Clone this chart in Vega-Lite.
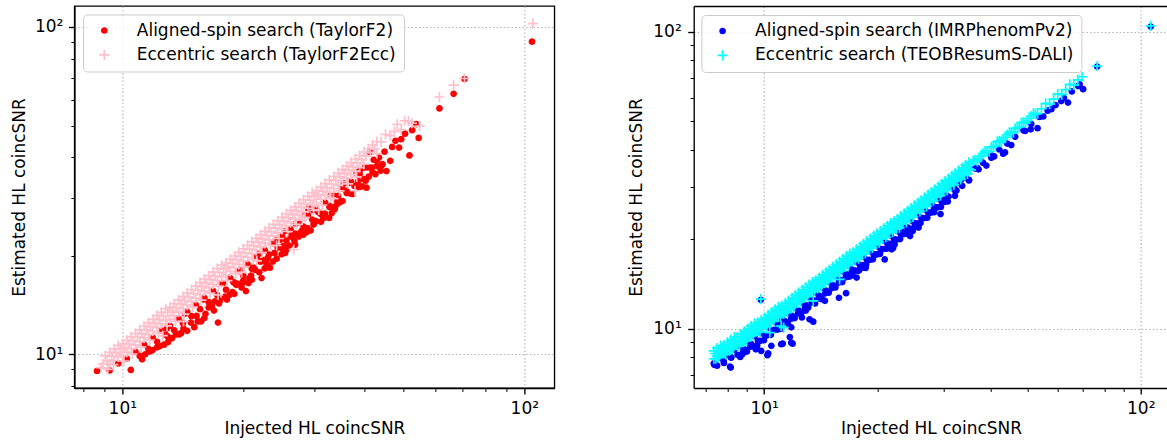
{
"$schema":"https://vega.github.io/schema/vega-lite/v6.json",
"background":"white",
"padding":{"left":9.4,"top":5,"right":0,"bottom":0},
"spacing":139.3,
"bounds":"flush",
"config":{
"font":"DejaVu Sans",
"view":{"stroke":"black","strokeWidth":1.36},
"axis":{"labelFont":"DejaVu Sans","labelFontSize":17,"labelColor":"black","titleFont":"DejaVu Sans","titleFontSize":17,"titleFontWeight":"normal","titleColor":"black","tickColor":"black","domainColor":"black","domainWidth":1.36,"gridColor":"#b0b0b0","gridDash":[1.4,2.3],"gridWidth":1.2,"labelOverlap":false,"labelFlush":false,"labelBound":false,"grid":true},
"legend":{"labelFont":"DejaVu Sans","labelFontSize":17,"labelColor":"black","labelLimit":500,"padding":7.5,"rowPadding":6.4,"symbolOffset":5.2,"labelOffset":24,"fillColor":"rgba(255,255,255,0.8)","strokeColor":"#cccccc","cornerRadius":4,"symbolStrokeWidth":1.7,"symbolOpacity":1,"symbolSize":104}
},
"datasets":{
"L":[
{"x":8.65,"y":8.9,"s":"A"},{"x":10.5,"y":8.96,"s":"A"},{"x":11.2,"y":9.65,"s":"A"},{"x":11.4,"y":10.0,"s":"A"},{"x":11.7,"y":10.2,"s":"A"},{"x":12.2,"y":10.5,"s":"A"},{"x":12.7,"y":10.7,"s":"A"},{"x":13.3,"y":11.2,"s":"A"},{"x":13.85,"y":11.5,"s":"A"},{"x":14.5,"y":11.8,"s":"A"},{"x":15.1,"y":12.1,"s":"A"},{"x":15.7,"y":12.6,"s":"A"},{"x":16.4,"y":13.9,"s":"A"},{"x":17.3,"y":12.5,"s":"A"},{"x":17.5,"y":14.6,"s":"A"},{"x":18.2,"y":14.7,"s":"A"},{"x":19.0,"y":15.3,"s":"A"},{"x":19.4,"y":16.4,"s":"A"},{"x":20.3,"y":15.6,"s":"A"},{"x":20.7,"y":17.1,"s":"A"},{"x":21.2,"y":18.4,"s":"A"},{"x":21.6,"y":19.7,"s":"A"},{"x":23.0,"y":19.7,"s":"A"},{"x":23.3,"y":18.4,"s":"A"},{"x":24.0,"y":22.2,"s":"A"},{"x":25.1,"y":21.4,"s":"A"},{"x":25.6,"y":20.9,"s":"A"},{"x":26.2,"y":23.0,"s":"A"},{"x":27.3,"y":23.3,"s":"A"},{"x":27.9,"y":23.8,"s":"A"},{"x":28.5,"y":26.8,"s":"A"},{"x":30.3,"y":25.5,"s":"A"},{"x":31.7,"y":26.1,"s":"A"},{"x":32.7,"y":26.1,"s":"A"},{"x":33.7,"y":27.7,"s":"A"},{"x":34.1,"y":28.7,"s":"A"},{"x":36.3,"y":31.2,"s":"A"},{"x":36.7,"y":33.4,"s":"A"},{"x":38.3,"y":35.5,"s":"A"},{"x":41.7,"y":37.2,"s":"A"},{"x":44.4,"y":38.1,"s":"A"},{"x":43.5,"y":39.9,"s":"A"},{"x":45.4,"y":36.3,"s":"A"},{"x":46.4,"y":39.0,"s":"A"},{"x":49.4,"y":45.4,"s":"A"},{"x":50.5,"y":47.2,"s":"A"},{"x":51.8,"y":40.5,"s":"A"},{"x":54.6,"y":45.8,"s":"A"},{"x":61.5,"y":56.4,"s":"A"},{"x":66.7,"y":62.5,"s":"A"},{"x":71.0,"y":69.4,"s":"A"},{"x":104.5,"y":90.2,"s":"A"},{"x":25.4,"y":23.8,"s":"A"},{"x":24.7,"y":22.4,"s":"A"},{"x":25.4,"y":20.9,"s":"A"},{"x":23.1,"y":18.6,"s":"A"},{"x":22.2,"y":17.1,"s":"A"},{"x":41.3,"y":41.5,"s":"A"},{"x":40.1,"y":37.2,"s":"A"},{"x":40.5,"y":32.3,"s":"A"},{"x":38.6,"y":33.8,"s":"A"},{"x":38.3,"y":35.9,"s":"A"},{"x":36.1,"y":31.6,"s":"A"},{"x":34.4,"y":30.5,"s":"A"},{"x":34.1,"y":29.4,"s":"A"},{"x":33.8,"y":28.0,"s":"A"},{"x":31.6,"y":26.1,"s":"A"},{"x":31.0,"y":27.1,"s":"A"},{"x":29.0,"y":27.9,"s":"A"},
{"x":9.30,"y":8.93,"s":"A"},{"x":9.77,"y":9.38,"s":"A"},{"x":10.26,"y":9.70,"s":"A"},{"x":10.78,"y":10.19,"s":"A"},{"x":11.33,"y":10.71,"s":"A"},{"x":11.90,"y":11.25,"s":"A"},{"x":12.50,"y":11.81,"s":"A"},{"x":13.14,"y":12.22,"s":"A"},{"x":13.80,"y":12.83,"s":"A"},{"x":14.50,"y":13.49,"s":"A"},{"x":15.23,"y":14.16,"s":"A"},{"x":16.00,"y":14.88,"s":"A"},{"x":16.81,"y":15.63,"s":"A"},{"x":17.66,"y":16.42,"s":"A"},{"x":18.56,"y":17.08,"s":"A"},{"x":19.50,"y":17.94,"s":"A"},{"x":20.49,"y":18.85,"s":"A"},{"x":21.52,"y":19.80,"s":"A"},{"x":22.61,"y":20.80,"s":"A"},{"x":23.76,"y":21.86,"s":"A"},{"x":24.96,"y":22.96,"s":"A"},{"x":26.22,"y":24.12,"s":"A"},{"x":27.55,"y":25.35,"s":"A"},{"x":28.95,"y":26.63,"s":"A"},{"x":30.41,"y":27.67,"s":"A"},{"x":31.95,"y":29.07,"s":"A"},{"x":33.57,"y":30.55,"s":"A"},{"x":35.27,"y":32.10,"s":"A"},{"x":37.05,"y":33.72,"s":"A"},{"x":38.93,"y":35.43,"s":"A"},{"x":40.90,"y":37.22,"s":"A"},{"x":42.97,"y":39.10,"s":"A"},
{"x":11.05,"y":9.89,"s":"A"},{"x":11.61,"y":10.39,"s":"A"},{"x":12.20,"y":10.92,"s":"A"},{"x":12.82,"y":11.47,"s":"A"},{"x":13.46,"y":11.84,"s":"A"},{"x":14.15,"y":12.45,"s":"A"},{"x":14.86,"y":13.08,"s":"A"},{"x":15.61,"y":13.74,"s":"A"},{"x":16.40,"y":14.43,"s":"A"},{"x":17.23,"y":15.16,"s":"A"},{"x":18.11,"y":15.76,"s":"A"},{"x":19.02,"y":16.55,"s":"A"},{"x":19.99,"y":17.39,"s":"A"},{"x":21.00,"y":18.27,"s":"A"},{"x":22.06,"y":19.19,"s":"A"},{"x":23.18,"y":20.17,"s":"A"},{"x":24.35,"y":21.18,"s":"A"},{"x":25.58,"y":22.25,"s":"A"},{"x":26.88,"y":23.39,"s":"A"},{"x":28.24,"y":24.57,"s":"A"},{"x":29.67,"y":25.81,"s":"A"},{"x":31.17,"y":26.81,"s":"A"},{"x":32.75,"y":28.17,"s":"A"},{"x":34.41,"y":29.59,"s":"A"},{"x":36.15,"y":31.09,"s":"A"},{"x":37.98,"y":32.66,"s":"A"},{"x":39.90,"y":34.31,"s":"A"},{"x":41.92,"y":36.05,"s":"A"},
{"x":12.9,"y":12.0,"s":"A"},{"x":14.3,"y":13.3,"s":"A"},{"x":15.9,"y":14.7,"s":"A"},{"x":17.8,"y":16.5,"s":"A"},{"x":19.6,"y":18.1,"s":"A"},{"x":21.9,"y":20.3,"s":"A"},{"x":24.4,"y":22.6,"s":"A"},{"x":27.0,"y":25.1,"s":"A"},{"x":29.8,"y":27.6,"s":"A"},{"x":33.0,"y":30.6,"s":"A"},{"x":35.6,"y":33.3,"s":"A"},{"x":39.0,"y":36.5,"s":"A"},{"x":42.2,"y":39.3,"s":"A"},{"x":44.9,"y":41.6,"s":"A"},{"x":46.9,"y":43.0,"s":"A"},{"x":47.8,"y":44.9,"s":"A"},{"x":48.8,"y":42.8,"s":"A"},{"x":52.6,"y":48.4,"s":"A"},{"x":53.9,"y":50.5,"s":"A"},{"x":18.9,"y":16.6,"s":"A"},{"x":22.4,"y":19.4,"s":"A"},{"x":26.5,"y":22.8,"s":"A"},{"x":30.7,"y":27.2,"s":"A"},{"x":37.8,"y":32.7,"s":"A"},{"x":42.9,"y":37.6,"s":"A"},
{"x":13.0,"y":10.9,"s":"A"},{"x":14.0,"y":11.6,"s":"A"},{"x":15.4,"y":12.6,"s":"A"},{"x":16.1,"y":13.3,"s":"A"},{"x":16.9,"y":13.6,"s":"A"},{"x":18.5,"y":15.2,"s":"A"},{"x":19.8,"y":16.0,"s":"A"},{"x":20.6,"y":16.5,"s":"A"},{"x":21.9,"y":17.8,"s":"A"},{"x":23.7,"y":19.2,"s":"A"},{"x":24.9,"y":20.2,"s":"A"},{"x":26.9,"y":21.6,"s":"A"},{"x":28.7,"y":23.6,"s":"A"},{"x":29.9,"y":24.9,"s":"A"},{"x":31.2,"y":25.4,"s":"A"},{"x":33.2,"y":27.0,"s":"A"},{"x":35.3,"y":29.4,"s":"A"},{"x":37.4,"y":30.9,"s":"A"},{"x":39.5,"y":32.6,"s":"A"},{"x":41.0,"y":34.9,"s":"A"},{"x":43.9,"y":36.4,"s":"A"},
{"x":11.9,"y":10.3,"s":"A"},{"x":12.4,"y":10.6,"s":"A"},{"x":13.6,"y":11.5,"s":"A"},{"x":14.8,"y":12.5,"s":"A"},{"x":15.3,"y":13.1,"s":"A"},{"x":16.7,"y":14.0,"s":"A"},{"x":17.0,"y":14.5,"s":"A"},{"x":18.0,"y":15.0,"s":"A"},{"x":19.2,"y":16.3,"s":"A"},{"x":20.0,"y":16.8,"s":"A"},{"x":20.9,"y":17.4,"s":"A"},{"x":21.4,"y":18.1,"s":"A"},{"x":22.8,"y":19.0,"s":"A"},{"x":23.9,"y":20.4,"s":"A"},{"x":25.0,"y":21.0,"s":"A"},{"x":26.0,"y":21.5,"s":"A"},{"x":27.5,"y":22.9,"s":"A"},{"x":28.9,"y":24.3,"s":"A"},{"x":30.0,"y":25.2,"s":"A"},{"x":31.9,"y":26.9,"s":"A"},{"x":32.9,"y":28.3,"s":"A"},{"x":34.7,"y":29.1,"s":"A"},{"x":36.9,"y":31.0,"s":"A"},{"x":38.8,"y":32.4,"s":"A"},{"x":40.3,"y":33.9,"s":"A"},{"x":42.6,"y":35.5,"s":"A"},{"x":44.1,"y":37.7,"s":"A"},{"x":16.0,"y":12.9,"s":"A"},{"x":18.8,"y":15.5,"s":"A"},{"x":21.0,"y":16.9,"s":"A"},{"x":24.2,"y":19.6,"s":"A"},{"x":26.8,"y":22.2,"s":"A"},{"x":29.4,"y":23.9,"s":"A"},{"x":13.0,"y":11.3,"s":"A"},{"x":14.2,"y":12.0,"s":"A"},{"x":17.4,"y":14.3,"s":"A"},{"x":19.9,"y":16.5,"s":"A"},{"x":22.6,"y":18.3,"s":"A"},{"x":25.4,"y":20.4,"s":"A"},{"x":28.2,"y":23.2,"s":"A"},
{"x":8.85,"y":9.1,"s":"E"},{"x":8.95,"y":9.35,"s":"E"},{"x":9.07,"y":9.89,"s":"E"},{"x":9.18,"y":9.52,"s":"E"},{"x":9.30,"y":10.14,"s":"E"},{"x":9.41,"y":9.88,"s":"E"},{"x":9.30,"y":9.35,"s":"E"},{"x":9.53,"y":10.39,"s":"E"},{"x":9.64,"y":10.12,"s":"E"},{"x":9.53,"y":9.58,"s":"E"},{"x":9.77,"y":10.65,"s":"E"},{"x":9.89,"y":10.38,"s":"E"},{"x":9.77,"y":9.82,"s":"E"},{"x":10.01,"y":10.76,"s":"E"},{"x":10.13,"y":10.48,"s":"E"},{"x":10.01,"y":9.91,"s":"E"},{"x":10.26,"y":11.03,"s":"E"},{"x":10.38,"y":10.74,"s":"E"},{"x":10.26,"y":10.16,"s":"E"},{"x":10.52,"y":11.31,"s":"E"},{"x":10.65,"y":11.02,"s":"E"},{"x":10.52,"y":10.41,"s":"E"},{"x":10.78,"y":11.59,"s":"E"},{"x":10.91,"y":11.29,"s":"E"},{"x":10.78,"y":10.67,"s":"E"},{"x":11.05,"y":11.88,"s":"E"},{"x":11.18,"y":11.57,"s":"E"},{"x":11.05,"y":10.94,"s":"E"},{"x":11.33,"y":12.18,"s":"E"},{"x":11.47,"y":11.87,"s":"E"},{"x":11.33,"y":11.22,"s":"E"},{"x":11.61,"y":12.48,"s":"E"},{"x":11.75,"y":12.16,"s":"E"},{"x":11.61,"y":11.49,"s":"E"},{"x":11.90,"y":12.79,"s":"E"},{"x":12.04,"y":12.46,"s":"E"},{"x":11.90,"y":11.78,"s":"E"},{"x":12.20,"y":13.12,"s":"E"},{"x":12.35,"y":12.78,"s":"E"},{"x":12.20,"y":12.08,"s":"E"},{"x":12.50,"y":13.44,"s":"E"},{"x":12.65,"y":13.09,"s":"E"},{"x":12.50,"y":12.38,"s":"E"},{"x":12.82,"y":13.78,"s":"E"},{"x":12.97,"y":13.42,"s":"E"},{"x":12.82,"y":12.69,"s":"E"},{"x":13.14,"y":13.93,"s":"E"},{"x":13.30,"y":13.57,"s":"E"},{"x":13.14,"y":12.81,"s":"E"},{"x":13.46,"y":14.27,"s":"E"},{"x":13.62,"y":13.89,"s":"E"},{"x":13.46,"y":13.12,"s":"E"},{"x":13.80,"y":14.63,"s":"E"},{"x":13.97,"y":14.25,"s":"E"},{"x":13.80,"y":13.46,"s":"E"},{"x":14.15,"y":15.00,"s":"E"},{"x":14.32,"y":14.61,"s":"E"},{"x":14.15,"y":13.80,"s":"E"},{"x":14.50,"y":15.37,"s":"E"},{"x":14.67,"y":14.96,"s":"E"},{"x":14.50,"y":14.14,"s":"E"},{"x":14.86,"y":15.75,"s":"E"},{"x":15.04,"y":15.34,"s":"E"},{"x":14.86,"y":14.49,"s":"E"},{"x":15.23,"y":16.14,"s":"E"},{"x":15.41,"y":15.72,"s":"E"},{"x":15.23,"y":14.85,"s":"E"},{"x":15.61,"y":16.55,"s":"E"},{"x":15.80,"y":16.12,"s":"E"},{"x":15.61,"y":15.22,"s":"E"},{"x":16.00,"y":16.96,"s":"E"},{"x":16.19,"y":16.51,"s":"E"},{"x":16.00,"y":15.60,"s":"E"},{"x":16.40,"y":17.38,"s":"E"},{"x":16.60,"y":16.93,"s":"E"},{"x":16.40,"y":15.99,"s":"E"},{"x":16.81,"y":17.82,"s":"E"},{"x":17.01,"y":17.35,"s":"E"},{"x":16.81,"y":16.39,"s":"E"},{"x":17.23,"y":18.26,"s":"E"},{"x":17.44,"y":17.79,"s":"E"},{"x":17.23,"y":16.80,"s":"E"},{"x":17.66,"y":18.72,"s":"E"},{"x":17.87,"y":18.23,"s":"E"},{"x":17.66,"y":17.22,"s":"E"},{"x":18.11,"y":19.02,"s":"E"},{"x":18.33,"y":18.51,"s":"E"},{"x":18.11,"y":17.48,"s":"E"},{"x":18.56,"y":19.49,"s":"E"},{"x":18.78,"y":18.97,"s":"E"},{"x":18.56,"y":17.91,"s":"E"},{"x":19.02,"y":19.97,"s":"E"},{"x":19.25,"y":19.44,"s":"E"},{"x":19.02,"y":18.35,"s":"E"},{"x":19.50,"y":20.48,"s":"E"},{"x":19.73,"y":19.93,"s":"E"},{"x":19.50,"y":18.82,"s":"E"},{"x":19.99,"y":20.99,"s":"E"},{"x":20.23,"y":20.43,"s":"E"},{"x":19.99,"y":19.29,"s":"E"},{"x":20.49,"y":21.51,"s":"E"},{"x":20.74,"y":20.95,"s":"E"},{"x":20.49,"y":19.77,"s":"E"},{"x":21.00,"y":22.05,"s":"E"},{"x":21.25,"y":21.46,"s":"E"},{"x":21.00,"y":20.27,"s":"E"},{"x":21.52,"y":22.60,"s":"E"},{"x":21.78,"y":22.00,"s":"E"},{"x":21.52,"y":20.77,"s":"E"},{"x":22.06,"y":23.16,"s":"E"},{"x":22.32,"y":22.54,"s":"E"},{"x":22.06,"y":21.29,"s":"E"},{"x":22.61,"y":23.74,"s":"E"},{"x":22.88,"y":23.11,"s":"E"},{"x":22.61,"y":21.82,"s":"E"},{"x":23.18,"y":24.34,"s":"E"},{"x":23.46,"y":23.69,"s":"E"},{"x":23.18,"y":22.37,"s":"E"},{"x":23.76,"y":24.95,"s":"E"},{"x":24.05,"y":24.29,"s":"E"},{"x":23.76,"y":22.93,"s":"E"},{"x":24.35,"y":25.57,"s":"E"},{"x":24.64,"y":24.89,"s":"E"},{"x":24.35,"y":23.50,"s":"E"},{"x":24.96,"y":26.21,"s":"E"},{"x":25.26,"y":25.51,"s":"E"},{"x":24.96,"y":24.09,"s":"E"},{"x":25.58,"y":26.86,"s":"E"},{"x":25.89,"y":26.15,"s":"E"},{"x":25.58,"y":24.68,"s":"E"},{"x":26.22,"y":27.53,"s":"E"},{"x":26.53,"y":26.80,"s":"E"},{"x":26.22,"y":25.30,"s":"E"},{"x":26.88,"y":28.22,"s":"E"},{"x":27.20,"y":27.47,"s":"E"},{"x":26.88,"y":25.94,"s":"E"},{"x":27.55,"y":28.93,"s":"E"},{"x":27.88,"y":28.16,"s":"E"},{"x":27.55,"y":26.59,"s":"E"},{"x":28.24,"y":29.65,"s":"E"},{"x":28.58,"y":28.87,"s":"E"},{"x":28.24,"y":27.25,"s":"E"},{"x":28.95,"y":30.40,"s":"E"},{"x":29.30,"y":29.59,"s":"E"},{"x":28.95,"y":27.94,"s":"E"},{"x":29.67,"y":31.15,"s":"E"},{"x":30.03,"y":30.33,"s":"E"},{"x":29.67,"y":28.63,"s":"E"},{"x":30.41,"y":31.63,"s":"E"},{"x":30.77,"y":30.77,"s":"E"},{"x":30.41,"y":29.04,"s":"E"},{"x":31.17,"y":32.42,"s":"E"},{"x":31.54,"y":31.54,"s":"E"},{"x":31.17,"y":29.77,"s":"E"},{"x":31.95,"y":33.23,"s":"E"},{"x":32.33,"y":32.33,"s":"E"},{"x":31.95,"y":30.51,"s":"E"},{"x":32.75,"y":34.06,"s":"E"},{"x":33.14,"y":33.14,"s":"E"},{"x":32.75,"y":31.28,"s":"E"},{"x":33.57,"y":34.91,"s":"E"},{"x":33.97,"y":33.97,"s":"E"},{"x":33.57,"y":32.06,"s":"E"},{"x":34.41,"y":35.79,"s":"E"},{"x":34.82,"y":34.82,"s":"E"},{"x":34.41,"y":32.86,"s":"E"},{"x":35.27,"y":36.68,"s":"E"},{"x":35.69,"y":35.69,"s":"E"},{"x":35.27,"y":33.68,"s":"E"},{"x":36.15,"y":37.60,"s":"E"},{"x":36.58,"y":36.58,"s":"E"},{"x":36.15,"y":34.52,"s":"E"},{"x":37.05,"y":38.53,"s":"E"},{"x":37.49,"y":37.49,"s":"E"},{"x":37.05,"y":35.38,"s":"E"},{"x":37.98,"y":39.50,"s":"E"},{"x":38.44,"y":38.44,"s":"E"},{"x":37.98,"y":36.27,"s":"E"},{"x":38.93,"y":40.49,"s":"E"},{"x":39.40,"y":39.40,"s":"E"},{"x":38.93,"y":37.18,"s":"E"},{"x":39.90,"y":41.50,"s":"E"},{"x":40.38,"y":40.38,"s":"E"},{"x":39.90,"y":38.10,"s":"E"},{"x":40.90,"y":42.54,"s":"E"},{"x":41.39,"y":41.39,"s":"E"},{"x":41.92,"y":43.60,"s":"E"},{"x":42.42,"y":42.42,"s":"E"},{"x":42.97,"y":44.69,"s":"E"},{"x":42.97,"y":41.04,"s":"E"},{"x":44.04,"y":44.57,"s":"E"},{"x":45.14,"y":46.95,"s":"E"},{"x":46.4,"y":46.6,"s":"E"},{"x":47.5,"y":47.9,"s":"E"},{"x":48.3,"y":50.4,"s":"E"},{"x":49.4,"y":48.6,"s":"E"},{"x":50.4,"y":51.7,"s":"E"},{"x":51.5,"y":51.6,"s":"E"},{"x":52.5,"y":50.8,"s":"E"},{"x":54.9,"y":49.8,"s":"E"},{"x":61.5,"y":61.1,"s":"E"},{"x":66.7,"y":66.4,"s":"E"},{"x":71.0,"y":69.6,"s":"E"},{"x":105.0,"y":102.4,"s":"E"},{"x":26.7,"y":20.9,"s":"E"},{"x":37.9,"y":31.6,"s":"E"},{"x":21.6,"y":19.3,"s":"E"},{"x":17.3,"y":15.2,"s":"E"},{"x":14.2,"y":12.6,"s":"E"},{"x":24.2,"y":21.5,"s":"E"},{"x":30.8,"y":27.6,"s":"E"},{"x":12.6,"y":11.4,"s":"E"},{"x":19.8,"y":17.8,"s":"E"},{"x":33.5,"y":29.9,"s":"E"},{"x":9.2,"y":9.0,"s":"E"},{"x":9.5,"y":9.3,"s":"E"},{"x":28.0,"y":25.7,"s":"E"},
{"x":10.09,"y":9.54,"s":"E"},{"x":10.60,"y":10.02,"s":"E"},{"x":11.14,"y":10.53,"s":"E"},{"x":11.70,"y":11.06,"s":"E"},{"x":12.30,"y":11.62,"s":"E"},{"x":12.92,"y":12.21,"s":"E"},{"x":13.57,"y":12.62,"s":"E"},{"x":14.26,"y":13.26,"s":"E"},{"x":14.98,"y":13.93,"s":"E"},{"x":15.73,"y":14.63,"s":"E"},{"x":16.53,"y":15.37,"s":"E"},{"x":17.37,"y":16.15,"s":"E"},{"x":18.25,"y":16.79,"s":"E"},{"x":19.17,"y":17.64,"s":"E"},{"x":20.15,"y":18.54,"s":"E"},{"x":21.17,"y":19.48,"s":"E"},{"x":22.24,"y":20.46,"s":"E"},{"x":23.37,"y":21.50,"s":"E"},{"x":24.54,"y":22.58,"s":"E"},{"x":25.78,"y":23.72,"s":"E"},{"x":27.10,"y":24.93,"s":"E"},{"x":28.47,"y":26.19,"s":"E"},{"x":29.91,"y":27.52,"s":"E"},{"x":31.42,"y":28.59,"s":"E"},{"x":33.01,"y":30.04,"s":"E"},{"x":34.69,"y":31.57,"s":"E"},{"x":36.44,"y":33.16,"s":"E"},{"x":38.28,"y":34.83,"s":"E"}
],
"R":[
{"x":7.39,"y":7.59,"s":"A"},{"x":7.37,"y":7.55,"s":"A"},{"x":7.63,"y":7.99,"s":"A"},{"x":7.81,"y":7.78,"s":"A"},{"x":8.12,"y":7.45,"s":"A"},{"x":8.15,"y":7.39,"s":"A"},{"x":8.18,"y":7.99,"s":"A"},{"x":8.75,"y":8.2,"s":"A"},{"x":8.79,"y":8.41,"s":"A"},{"x":8.96,"y":8.41,"s":"A"},{"x":9.5,"y":8.52,"s":"A"},{"x":9.54,"y":8.6,"s":"A"},{"x":9.82,"y":8.41,"s":"A"},{"x":10.2,"y":8.14,"s":"A"},{"x":10.25,"y":8.25,"s":"A"},{"x":10.45,"y":8.75,"s":"A"},{"x":11.1,"y":8.86,"s":"A"},{"x":11.2,"y":8.9,"s":"A"},{"x":11.7,"y":9.37,"s":"A"},{"x":11.8,"y":8.97,"s":"A"},{"x":11.9,"y":8.9,"s":"A"},{"x":11.8,"y":10.1,"s":"A"},{"x":12.6,"y":10.9,"s":"A"},{"x":12.9,"y":11.5,"s":"A"},{"x":13.2,"y":10.75,"s":"A"},{"x":13.5,"y":10.55,"s":"A"},{"x":14.2,"y":12.56,"s":"A"},{"x":14.5,"y":12.4,"s":"A"},{"x":15.8,"y":12.7,"s":"A"},{"x":16.5,"y":13.16,"s":"A"},{"x":17.6,"y":14.85,"s":"A"},{"x":17.8,"y":15.65,"s":"A"},{"x":18.6,"y":16.0,"s":"A"},{"x":18.3,"y":16.05,"s":"A"},{"x":17.1,"y":15.6,"s":"A"},{"x":19.95,"y":17.8,"s":"A"},{"x":20.3,"y":17.9,"s":"A"},{"x":20.9,"y":17.1,"s":"A"},{"x":21.8,"y":18.5,"s":"A"},{"x":22.0,"y":18.7,"s":"A"},{"x":22.2,"y":19.2,"s":"A"},{"x":23.4,"y":21.1,"s":"A"},{"x":24.1,"y":21.9,"s":"A"},{"x":24.4,"y":20.5,"s":"A"},{"x":24.8,"y":21.3,"s":"A"},{"x":25.7,"y":21.9,"s":"A"},{"x":28.1,"y":24.9,"s":"A"},{"x":29.4,"y":24.3,"s":"A"},{"x":30.2,"y":27.3,"s":"A"},{"x":31.96,"y":29.8,"s":"A"},{"x":32.1,"y":28.0,"s":"A"},{"x":32.4,"y":29.2,"s":"A"},{"x":33.4,"y":31.8,"s":"A"},{"x":35.0,"y":31.7,"s":"A"},{"x":36.8,"y":34.8,"s":"A"},{"x":37.1,"y":34.4,"s":"A"},{"x":40.1,"y":37.6,"s":"A"},{"x":40.8,"y":38.0,"s":"A"},{"x":43.1,"y":38.8,"s":"A"},{"x":43.6,"y":39.2,"s":"A"},{"x":49.3,"y":46.3,"s":"A"},{"x":51.0,"y":46.9,"s":"A"},{"x":53.2,"y":47.3,"s":"A"},{"x":55.1,"y":51.8,"s":"A"},{"x":57.9,"y":54.8,"s":"A"},{"x":61.5,"y":58.4,"s":"A"},{"x":64.1,"y":57.7,"s":"A"},{"x":68.2,"y":65.6,"s":"A"},{"x":70.3,"y":64.0,"s":"A"},{"x":76.6,"y":76.3,"s":"A"},{"x":106.3,"y":104.0,"s":"A"},{"x":9.8,"y":12.5,"s":"A"},
{"x":7.35,"y":7.64,"s":"A"},{"x":7.66,"y":7.97,"s":"A"},{"x":7.99,"y":8.15,"s":"A"},{"x":8.33,"y":8.50,"s":"A"},{"x":8.68,"y":8.68,"s":"A"},{"x":9.05,"y":9.05,"s":"A"},{"x":9.43,"y":9.43,"s":"A"},{"x":9.83,"y":9.68,"s":"A"},{"x":10.25,"y":10.10,"s":"A"},{"x":10.69,"y":10.53,"s":"A"},{"x":11.14,"y":10.81,"s":"A"},{"x":11.62,"y":11.27,"s":"A"},{"x":12.11,"y":11.75,"s":"A"},{"x":12.62,"y":12.24,"s":"A"},{"x":13.16,"y":12.77,"s":"A"},{"x":13.72,"y":13.17,"s":"A"},{"x":14.30,"y":13.73,"s":"A"},{"x":14.91,"y":14.31,"s":"A"},{"x":15.54,"y":14.92,"s":"A"},{"x":16.20,"y":15.55,"s":"A"},{"x":16.89,"y":16.21,"s":"A"},{"x":17.61,"y":16.73,"s":"A"},{"x":18.36,"y":17.44,"s":"A"},{"x":19.14,"y":18.18,"s":"A"},{"x":19.95,"y":18.95,"s":"A"},{"x":20.80,"y":19.76,"s":"A"},{"x":21.68,"y":20.60,"s":"A"},{"x":22.60,"y":21.29,"s":"A"},{"x":23.56,"y":22.19,"s":"A"},{"x":24.56,"y":23.14,"s":"A"},{"x":25.61,"y":24.12,"s":"A"},{"x":26.69,"y":25.14,"s":"A"},{"x":27.83,"y":26.22,"s":"A"},{"x":29.01,"y":27.33,"s":"A"},{"x":30.24,"y":28.49,"s":"A"},{"x":31.53,"y":29.70,"s":"A"},{"x":32.87,"y":30.96,"s":"A"},{"x":34.26,"y":32.27,"s":"A"},
{"x":7.50,"y":7.50,"s":"A"},{"x":7.82,"y":7.66,"s":"A"},{"x":8.16,"y":8.00,"s":"A"},{"x":8.50,"y":8.16,"s":"A"},{"x":8.86,"y":8.51,"s":"A"},{"x":9.24,"y":8.87,"s":"A"},{"x":9.63,"y":9.10,"s":"A"},{"x":10.04,"y":9.49,"s":"A"},{"x":10.47,"y":9.89,"s":"A"},{"x":10.91,"y":10.31,"s":"A"},{"x":11.38,"y":10.58,"s":"A"},{"x":11.86,"y":11.03,"s":"A"},{"x":12.36,"y":11.49,"s":"A"},{"x":12.89,"y":11.99,"s":"A"},{"x":13.44,"y":12.50,"s":"A"},{"x":14.01,"y":12.89,"s":"A"},{"x":14.60,"y":13.43,"s":"A"},{"x":15.22,"y":14.00,"s":"A"},{"x":15.87,"y":14.60,"s":"A"},{"x":16.54,"y":15.22,"s":"A"},{"x":17.25,"y":15.70,"s":"A"},{"x":17.98,"y":16.36,"s":"A"},{"x":18.74,"y":17.05,"s":"A"},{"x":19.54,"y":17.78,"s":"A"},{"x":20.37,"y":18.54,"s":"A"},{"x":21.24,"y":19.33,"s":"A"},{"x":22.14,"y":19.97,"s":"A"},{"x":23.08,"y":20.82,"s":"A"},{"x":24.06,"y":21.70,"s":"A"},{"x":25.08,"y":22.62,"s":"A"},{"x":26.14,"y":23.58,"s":"A"},{"x":27.25,"y":24.58,"s":"A"},{"x":28.41,"y":25.63,"s":"A"},{"x":29.62,"y":26.72,"s":"A"},{"x":30.88,"y":27.85,"s":"A"},{"x":32.19,"y":29.04,"s":"A"},{"x":33.56,"y":30.27,"s":"A"},{"x":34.98,"y":31.55,"s":"A"},
{"x":36.3,"y":34.6,"s":"A"},{"x":38.1,"y":36.2,"s":"A"},{"x":40.1,"y":38.3,"s":"A"},{"x":42.1,"y":40.1,"s":"A"},{"x":44.2,"y":42.0,"s":"A"},{"x":46.4,"y":44.3,"s":"A"},{"x":48.8,"y":46.6,"s":"A"},{"x":51.2,"y":48.9,"s":"A"},{"x":53.8,"y":51.6,"s":"A"},{"x":56.6,"y":54.2,"s":"A"},{"x":59.4,"y":56.6,"s":"A"},{"x":62.5,"y":59.8,"s":"A"},{"x":65.6,"y":62.9,"s":"A"},{"x":68.8,"y":66.5,"s":"A"},{"x":45.3,"y":41.5,"s":"A"},{"x":38.9,"y":35.4,"s":"A"},
{"x":8.64,"y":8.03,"s":"A"},{"x":8.82,"y":8.33,"s":"A"},{"x":9.00,"y":8.37,"s":"A"},{"x":9.19,"y":8.69,"s":"A"},{"x":9.38,"y":8.73,"s":"A"},{"x":9.58,"y":8.77,"s":"A"},{"x":9.78,"y":9.10,"s":"A"},{"x":9.99,"y":9.14,"s":"A"},{"x":10.20,"y":9.49,"s":"A"},{"x":10.42,"y":9.53,"s":"A"},{"x":10.64,"y":9.90,"s":"A"},{"x":10.86,"y":9.93,"s":"A"},{"x":11.08,"y":9.98,"s":"A"},{"x":11.32,"y":10.36,"s":"A"},{"x":11.56,"y":10.40,"s":"A"},{"x":11.80,"y":10.80,"s":"A"},{"x":12.05,"y":10.85,"s":"A"},{"x":12.30,"y":11.25,"s":"A"},{"x":12.56,"y":11.30,"s":"A"},{"x":12.83,"y":11.74,"s":"A"},{"x":13.09,"y":11.78,"s":"A"},{"x":13.37,"y":12.24,"s":"A"},{"x":13.65,"y":12.15,"s":"A"},{"x":13.94,"y":12.62,"s":"A"},{"x":14.23,"y":12.66,"s":"A"},{"x":14.53,"y":13.15,"s":"A"},{"x":14.84,"y":13.21,"s":"A"},{"x":15.14,"y":13.70,"s":"A"},{"x":15.46,"y":13.76,"s":"A"},{"x":15.79,"y":14.29,"s":"A"},{"x":16.12,"y":14.35,"s":"A"},{"x":16.46,"y":14.89,"s":"A"},{"x":16.81,"y":14.96,"s":"A"},{"x":17.16,"y":15.10,"s":"A"},{"x":17.52,"y":15.68,"s":"A"},{"x":17.89,"y":15.74,"s":"A"},{"x":18.27,"y":16.35,"s":"A"},{"x":18.65,"y":16.41,"s":"A"},{"x":19.04,"y":17.04,"s":"A"},{"x":19.44,"y":17.11,"s":"A"},{"x":19.85,"y":17.77,"s":"A"},{"x":20.27,"y":17.84,"s":"A"},{"x":20.70,"y":18.53,"s":"A"},{"x":21.13,"y":18.59,"s":"A"},{"x":21.57,"y":19.31,"s":"A"},{"x":22.03,"y":19.21,"s":"A"},{"x":22.49,"y":19.95,"s":"A"},{"x":22.96,"y":20.02,"s":"A"},{"x":23.44,"y":20.79,"s":"A"},{"x":23.94,"y":20.88,"s":"A"},{"x":24.44,"y":21.68,"s":"A"},{"x":24.95,"y":21.76,"s":"A"},{"x":25.48,"y":22.60,"s":"A"},{"x":26.01,"y":22.68,"s":"A"},{"x":26.56,"y":23.56,"s":"A"},{"x":27.11,"y":23.64,"s":"A"},{"x":27.69,"y":24.56,"s":"A"},{"x":28.27,"y":24.65,"s":"A"},{"x":28.86,"y":25.60,"s":"A"},{"x":29.47,"y":25.70,"s":"A"},{"x":30.09,"y":26.69,"s":"A"},{"x":30.73,"y":26.80,"s":"A"},
{"x":7.35,"y":8.42,"s":"E"},{"x":7.42,"y":8.24,"s":"E"},{"x":7.35,"y":7.90,"s":"E"},{"x":7.50,"y":8.59,"s":"E"},{"x":7.57,"y":8.40,"s":"E"},{"x":7.50,"y":8.06,"s":"E"},{"x":7.66,"y":8.77,"s":"E"},{"x":7.74,"y":8.59,"s":"E"},{"x":7.66,"y":8.23,"s":"E"},{"x":7.82,"y":8.80,"s":"E"},{"x":7.90,"y":8.61,"s":"E"},{"x":7.82,"y":8.25,"s":"E"},{"x":7.99,"y":8.99,"s":"E"},{"x":8.07,"y":8.80,"s":"E"},{"x":7.99,"y":8.43,"s":"E"},{"x":8.16,"y":9.18,"s":"E"},{"x":8.24,"y":8.98,"s":"E"},{"x":8.16,"y":8.61,"s":"E"},{"x":8.33,"y":9.37,"s":"E"},{"x":8.41,"y":9.17,"s":"E"},{"x":8.33,"y":8.79,"s":"E"},{"x":8.50,"y":9.39,"s":"E"},{"x":8.59,"y":9.19,"s":"E"},{"x":8.50,"y":8.80,"s":"E"},{"x":8.68,"y":9.59,"s":"E"},{"x":8.77,"y":9.38,"s":"E"},{"x":8.68,"y":8.98,"s":"E"},{"x":8.86,"y":9.79,"s":"E"},{"x":8.95,"y":9.58,"s":"E"},{"x":8.86,"y":9.17,"s":"E"},{"x":9.05,"y":10.0,"s":"E"},{"x":9.14,"y":9.78,"s":"E"},{"x":9.05,"y":9.37,"s":"E"},{"x":9.24,"y":10.21,"s":"E"},{"x":9.33,"y":9.98,"s":"E"},{"x":9.24,"y":9.56,"s":"E"},{"x":9.43,"y":10.42,"s":"E"},{"x":9.52,"y":10.19,"s":"E"},{"x":9.43,"y":9.76,"s":"E"},{"x":9.63,"y":10.50,"s":"E"},{"x":9.73,"y":10.27,"s":"E"},{"x":9.63,"y":9.82,"s":"E"},{"x":9.83,"y":10.71,"s":"E"},{"x":9.93,"y":10.48,"s":"E"},{"x":9.83,"y":10.03,"s":"E"},{"x":10.04,"y":10.89,"s":"E"},{"x":10.14,"y":10.70,"s":"E"},{"x":10.04,"y":10.29,"s":"E"},{"x":10.25,"y":11.12,"s":"E"},{"x":10.35,"y":10.92,"s":"E"},{"x":10.25,"y":10.51,"s":"E"},{"x":10.47,"y":11.36,"s":"E"},{"x":10.57,"y":11.15,"s":"E"},{"x":10.47,"y":10.73,"s":"E"},{"x":10.69,"y":11.60,"s":"E"},{"x":10.80,"y":11.39,"s":"E"},{"x":10.69,"y":10.96,"s":"E"},{"x":10.91,"y":11.84,"s":"E"},{"x":11.02,"y":11.63,"s":"E"},{"x":10.91,"y":11.18,"s":"E"},{"x":11.14,"y":11.92,"s":"E"},{"x":11.25,"y":11.70,"s":"E"},{"x":11.14,"y":11.25,"s":"E"},{"x":11.38,"y":12.18,"s":"E"},{"x":11.49,"y":11.95,"s":"E"},{"x":11.38,"y":11.49,"s":"E"},{"x":11.62,"y":12.43,"s":"E"},{"x":11.74,"y":12.21,"s":"E"},{"x":11.62,"y":11.74,"s":"E"},{"x":11.86,"y":12.69,"s":"E"},{"x":11.98,"y":12.46,"s":"E"},{"x":11.86,"y":11.98,"s":"E"},{"x":12.11,"y":12.96,"s":"E"},{"x":12.23,"y":12.72,"s":"E"},{"x":12.11,"y":12.23,"s":"E"},{"x":12.36,"y":13.23,"s":"E"},{"x":12.48,"y":12.98,"s":"E"},{"x":12.36,"y":12.48,"s":"E"},{"x":12.62,"y":13.50,"s":"E"},{"x":12.75,"y":13.26,"s":"E"},{"x":12.62,"y":12.75,"s":"E"},{"x":12.89,"y":13.79,"s":"E"},{"x":13.02,"y":13.54,"s":"E"},{"x":12.89,"y":13.02,"s":"E"},{"x":13.16,"y":14.08,"s":"E"},{"x":13.29,"y":13.82,"s":"E"},{"x":13.16,"y":13.29,"s":"E"},{"x":13.44,"y":14.38,"s":"E"},{"x":13.57,"y":14.11,"s":"E"},{"x":13.44,"y":13.57,"s":"E"},{"x":13.72,"y":14.54,"s":"E"},{"x":13.86,"y":14.28,"s":"E"},{"x":13.72,"y":13.72,"s":"E"},{"x":14.01,"y":14.85,"s":"E"},{"x":14.15,"y":14.57,"s":"E"},{"x":14.01,"y":14.01,"s":"E"},{"x":14.30,"y":15.16,"s":"E"},{"x":14.44,"y":14.87,"s":"E"},{"x":14.30,"y":14.30,"s":"E"},{"x":14.60,"y":15.48,"s":"E"},{"x":14.75,"y":15.19,"s":"E"},{"x":14.60,"y":14.60,"s":"E"},{"x":14.91,"y":15.80,"s":"E"},{"x":15.06,"y":15.51,"s":"E"},{"x":14.91,"y":14.91,"s":"E"},{"x":15.22,"y":16.13,"s":"E"},{"x":15.37,"y":15.83,"s":"E"},{"x":15.22,"y":15.22,"s":"E"},{"x":15.54,"y":16.47,"s":"E"},{"x":15.70,"y":16.17,"s":"E"},{"x":15.54,"y":15.54,"s":"E"},{"x":15.87,"y":16.82,"s":"E"},{"x":16.03,"y":16.51,"s":"E"},{"x":15.87,"y":15.87,"s":"E"},{"x":16.20,"y":17.17,"s":"E"},{"x":16.36,"y":16.85,"s":"E"},{"x":16.20,"y":16.20,"s":"E"},{"x":16.54,"y":17.53,"s":"E"},{"x":16.71,"y":17.21,"s":"E"},{"x":16.54,"y":16.54,"s":"E"},{"x":16.89,"y":17.90,"s":"E"},{"x":17.06,"y":17.57,"s":"E"},{"x":16.89,"y":16.89,"s":"E"},{"x":17.25,"y":18.11,"s":"E"},{"x":17.42,"y":17.77,"s":"E"},{"x":17.25,"y":17.08,"s":"E"},{"x":17.61,"y":18.49,"s":"E"},{"x":17.79,"y":18.15,"s":"E"},{"x":17.61,"y":17.43,"s":"E"},{"x":17.98,"y":18.88,"s":"E"},{"x":18.16,"y":18.52,"s":"E"},{"x":17.98,"y":17.80,"s":"E"},{"x":18.36,"y":19.28,"s":"E"},{"x":18.54,"y":18.91,"s":"E"},{"x":18.36,"y":18.18,"s":"E"},{"x":18.74,"y":19.68,"s":"E"},{"x":18.93,"y":19.31,"s":"E"},{"x":18.74,"y":18.55,"s":"E"},{"x":19.14,"y":20.10,"s":"E"},{"x":19.33,"y":19.72,"s":"E"},{"x":19.14,"y":18.95,"s":"E"},{"x":19.54,"y":20.52,"s":"E"},{"x":19.74,"y":20.13,"s":"E"},{"x":19.54,"y":19.34,"s":"E"},{"x":19.95,"y":20.95,"s":"E"},{"x":20.15,"y":20.55,"s":"E"},{"x":19.95,"y":19.75,"s":"E"},{"x":20.37,"y":21.29,"s":"E"},{"x":20.57,"y":20.98,"s":"E"},{"x":20.37,"y":20.27,"s":"E"},{"x":20.80,"y":21.74,"s":"E"},{"x":21.01,"y":21.43,"s":"E"},{"x":20.80,"y":20.70,"s":"E"},{"x":21.24,"y":22.20,"s":"E"},{"x":21.45,"y":21.88,"s":"E"},{"x":21.24,"y":21.13,"s":"E"},{"x":21.68,"y":22.66,"s":"E"},{"x":21.90,"y":22.34,"s":"E"},{"x":21.68,"y":21.57,"s":"E"},{"x":22.14,"y":22.96,"s":"E"},{"x":22.36,"y":22.63,"s":"E"},{"x":22.14,"y":21.85,"s":"E"},{"x":22.60,"y":23.44,"s":"E"},{"x":22.83,"y":23.10,"s":"E"},{"x":22.60,"y":22.31,"s":"E"},{"x":23.08,"y":23.93,"s":"E"},{"x":23.31,"y":23.59,"s":"E"},{"x":23.08,"y":22.78,"s":"E"},{"x":23.56,"y":24.43,"s":"E"},{"x":23.80,"y":24.09,"s":"E"},{"x":23.56,"y":23.25,"s":"E"},{"x":24.06,"y":24.95,"s":"E"},{"x":24.30,"y":24.59,"s":"E"},{"x":24.06,"y":23.75,"s":"E"},{"x":24.56,"y":25.47,"s":"E"},{"x":24.81,"y":25.11,"s":"E"},{"x":24.56,"y":24.24,"s":"E"},{"x":25.08,"y":26.01,"s":"E"},{"x":25.33,"y":25.63,"s":"E"},{"x":25.08,"y":24.75,"s":"E"},{"x":25.61,"y":26.56,"s":"E"},{"x":25.87,"y":26.18,"s":"E"},{"x":25.61,"y":25.28,"s":"E"},{"x":26.14,"y":27.11,"s":"E"},{"x":26.40,"y":26.72,"s":"E"},{"x":26.14,"y":25.80,"s":"E"},{"x":26.69,"y":27.68,"s":"E"},{"x":26.96,"y":27.28,"s":"E"},{"x":26.69,"y":26.34,"s":"E"},{"x":27.25,"y":28.26,"s":"E"},{"x":27.52,"y":27.85,"s":"E"},{"x":27.25,"y":26.90,"s":"E"},{"x":27.83,"y":28.86,"s":"E"},{"x":28.11,"y":28.45,"s":"E"},{"x":27.83,"y":27.47,"s":"E"},{"x":28.41,"y":29.46,"s":"E"},{"x":28.69,"y":29.03,"s":"E"},{"x":28.41,"y":28.04,"s":"E"},{"x":29.01,"y":30.08,"s":"E"},{"x":29.30,"y":29.65,"s":"E"},{"x":29.01,"y":28.63,"s":"E"},{"x":29.62,"y":30.72,"s":"E"},{"x":29.92,"y":30.28,"s":"E"},{"x":29.62,"y":29.24,"s":"E"},{"x":30.24,"y":31.36,"s":"E"},{"x":30.54,"y":30.91,"s":"E"},{"x":30.24,"y":29.85,"s":"E"},{"x":30.88,"y":32.02,"s":"E"},{"x":31.19,"y":31.56,"s":"E"},{"x":30.88,"y":30.48,"s":"E"},{"x":31.53,"y":32.70,"s":"E"},{"x":31.85,"y":32.23,"s":"E"},{"x":31.53,"y":31.12,"s":"E"},{"x":32.19,"y":33.38,"s":"E"},{"x":32.51,"y":32.90,"s":"E"},{"x":32.19,"y":31.77,"s":"E"},{"x":32.87,"y":34.09,"s":"E"},{"x":33.20,"y":33.60,"s":"E"},{"x":32.87,"y":32.44,"s":"E"},{"x":33.56,"y":34.80,"s":"E"},{"x":33.90,"y":34.30,"s":"E"},{"x":33.56,"y":33.12,"s":"E"},{"x":34.26,"y":35.53,"s":"E"},{"x":34.60,"y":35.02,"s":"E"},{"x":34.26,"y":33.81,"s":"E"},{"x":34.98,"y":36.27,"s":"E"},{"x":35.33,"y":35.75,"s":"E"},{"x":34.98,"y":34.53,"s":"E"},
{"x":7.44,"y":7.92,"s":"E"},{"x":7.59,"y":8.01,"s":"E"},{"x":7.75,"y":8.25,"s":"E"},{"x":7.91,"y":8.19,"s":"E"},{"x":8.09,"y":8.45,"s":"E"},{"x":8.26,"y":8.55,"s":"E"},{"x":8.43,"y":8.81,"s":"E"},{"x":8.60,"y":8.73,"s":"E"},{"x":8.78,"y":9.00,"s":"E"},{"x":8.97,"y":9.10,"s":"E"},{"x":9.16,"y":9.39,"s":"E"},{"x":9.35,"y":9.49,"s":"E"},{"x":9.54,"y":9.78,"s":"E"},{"x":9.75,"y":9.75,"s":"E"},{"x":9.95,"y":10.05,"s":"E"},{"x":10.16,"y":10.16,"s":"E"},{"x":10.37,"y":10.47,"s":"E"},{"x":10.60,"y":10.60,"s":"E"},{"x":10.82,"y":10.93,"s":"E"},{"x":11.04,"y":11.04,"s":"E"},{"x":11.27,"y":11.21,"s":"E"},{"x":11.52,"y":11.35,"s":"E"},{"x":11.76,"y":11.70,"s":"E"},{"x":12.00,"y":11.82,"s":"E"},{"x":12.26,"y":12.20,"s":"E"},{"x":12.51,"y":12.32,"s":"E"},{"x":12.77,"y":12.71,"s":"E"},{"x":13.04,"y":12.84,"s":"E"},{"x":13.32,"y":13.25,"s":"E"},{"x":13.60,"y":13.40,"s":"E"},{"x":13.88,"y":13.67,"s":"E"},{"x":14.18,"y":13.83,"s":"E"},{"x":14.47,"y":14.25,"s":"E"},{"x":14.78,"y":14.41,"s":"E"},{"x":15.09,"y":14.86,"s":"E"},{"x":15.40,"y":15.02,"s":"E"},{"x":15.73,"y":15.49,"s":"E"},{"x":16.06,"y":15.66,"s":"E"},{"x":16.39,"y":16.14,"s":"E"},{"x":16.74,"y":16.32,"s":"E"},{"x":17.09,"y":16.83,"s":"E"},{"x":17.46,"y":17.02,"s":"E"},{"x":17.82,"y":17.20,"s":"E"},{"x":18.20,"y":17.75,"s":"E"},{"x":18.58,"y":17.93,"s":"E"},{"x":18.96,"y":18.49,"s":"E"},{"x":19.37,"y":18.69,"s":"E"},{"x":19.77,"y":19.28,"s":"E"},{"x":20.19,"y":19.48,"s":"E"},{"x":20.61,"y":20.09,"s":"E"},{"x":21.05,"y":20.31,"s":"E"},{"x":21.49,"y":20.95,"s":"E"},{"x":21.94,"y":21.17,"s":"E"},{"x":22.41,"y":21.67,"s":"E"},{"x":22.87,"y":21.89,"s":"E"},{"x":23.36,"y":22.59,"s":"E"},{"x":23.84,"y":22.81,"s":"E"},{"x":24.35,"y":23.55,"s":"E"},{"x":24.85,"y":23.78,"s":"E"},{"x":25.38,"y":24.54,"s":"E"},{"x":25.92,"y":24.81,"s":"E"},{"x":26.45,"y":25.58,"s":"E"},{"x":27.01,"y":25.85,"s":"E"},{"x":27.58,"y":26.67,"s":"E"},{"x":28.16,"y":26.95,"s":"E"},{"x":28.75,"y":27.80,"s":"E"},{"x":29.36,"y":28.10,"s":"E"},{"x":29.98,"y":28.99,"s":"E"},{"x":30.60,"y":29.28,"s":"E"},{"x":31.25,"y":30.22,"s":"E"},{"x":31.91,"y":30.54,"s":"E"},{"x":32.58,"y":31.50,"s":"E"},{"x":33.26,"y":31.83,"s":"E"},{"x":33.96,"y":32.84,"s":"E"},{"x":34.67,"y":33.18,"s":"E"},{"x":35.40,"y":34.23,"s":"E"},
{"x":35.9,"y":36.8,"s":"E"},{"x":36.8,"y":36.6,"s":"E"},{"x":37.7,"y":38.1,"s":"E"},{"x":38.6,"y":39.6,"s":"E"},{"x":39.6,"y":39.4,"s":"E"},{"x":40.6,"y":41.0,"s":"E"},{"x":41.6,"y":42.6,"s":"E"},{"x":42.6,"y":42.4,"s":"E"},{"x":43.7,"y":44.1,"s":"E"},{"x":44.8,"y":45.9,"s":"E"},{"x":45.9,"y":45.7,"s":"E"},{"x":47.0,"y":47.5,"s":"E"},{"x":48.2,"y":49.4,"s":"E"},{"x":49.4,"y":49.2,"s":"E"},{"x":50.6,"y":51.1,"s":"E"},{"x":51.9,"y":53.2,"s":"E"},{"x":53.2,"y":52.9,"s":"E"},{"x":54.5,"y":55.0,"s":"E"},{"x":55.9,"y":57.3,"s":"E"},{"x":57.3,"y":57.0,"s":"E"},{"x":58.7,"y":59.3,"s":"E"},{"x":60.2,"y":61.7,"s":"E"},{"x":61.7,"y":61.4,"s":"E"},{"x":63.2,"y":63.8,"s":"E"},{"x":64.8,"y":66.4,"s":"E"},{"x":66.4,"y":66.1,"s":"E"},{"x":68.1,"y":68.8,"s":"E"},{"x":69.8,"y":70.5,"s":"E"},
{"x":36.3,"y":37.0,"s":"E"},{"x":37.2,"y":37.4,"s":"E"},{"x":38.1,"y":38.9,"s":"E"},{"x":39.1,"y":39.3,"s":"E"},{"x":40.1,"y":40.9,"s":"E"},{"x":41.1,"y":41.3,"s":"E"},{"x":42.1,"y":42.9,"s":"E"},{"x":43.1,"y":43.4,"s":"E"},{"x":44.2,"y":45.0,"s":"E"},{"x":45.3,"y":45.5,"s":"E"},{"x":46.4,"y":47.2,"s":"E"},{"x":47.6,"y":47.8,"s":"E"},{"x":48.8,"y":49.6,"s":"E"},{"x":50.0,"y":50.2,"s":"E"},{"x":51.2,"y":52.0,"s":"E"},{"x":52.5,"y":52.7,"s":"E"},
{"x":76.6,"y":76.6,"s":"E"},{"x":106.3,"y":104.5,"s":"E"},{"x":9.8,"y":12.56,"s":"E"},{"x":15.86,"y":14.66,"s":"E"},{"x":13.5,"y":12.4,"s":"E"},{"x":11.27,"y":10.08,"s":"E"},{"x":10.35,"y":9.69,"s":"E"},{"x":11.1,"y":10.2,"s":"E"}
]
},
"hconcat":[
{
"width":480,"height":382,
"data":{"name":"L"},
"mark":{"type":"point","opacity":1,"strokeWidth":1.7,"size":104},
"encoding":{
"x":{"field":"x","type":"quantitative","scale":{"type":"log","domain":[7.6,118.8],"nice":false},
"axis":{"values":[8,9,10,20,30,40,50,60,70,80,90,100],"labelExpr":"datum.value==10?'10¹':datum.value==100?'10²':''","tickSize":{"condition":{"test":"datum.value==10||datum.value==100","value":6},"value":3.5},"tickWidth":{"condition":{"test":"datum.value==10||datum.value==100","value":1.36},"value":1},"gridOpacity":{"condition":{"test":"datum.value==10||datum.value==100","value":1},"value":0},"labelBaseline":"alphabetic","labelPadding":20,"title":"Injected HL coincSNR","titleY":46,"titleBaseline":"alphabetic"}},
"y":{"field":"y","type":"quantitative","scale":{"type":"log","domain":[7.89,115.9],"nice":false},
"axis":{"values":[8,9,10,20,30,40,50,60,70,80,90,100],"labelExpr":"datum.value==10?'10¹':datum.value==100?'10²':''","tickSize":{"condition":{"test":"datum.value==10||datum.value==100","value":6},"value":3.5},"tickWidth":{"condition":{"test":"datum.value==10||datum.value==100","value":1.36},"value":1},"gridOpacity":{"condition":{"test":"datum.value==10||datum.value==100","value":1},"value":0},"labelPadding":5.5,"title":"Estimated HL coincSNR","titleX":-50,"titleBaseline":"alphabetic"}},
"fill":{"field":"s","type":"nominal","scale":{"domain":["A","E"],"range":["red","transparent"]},"legend":{"title":null,"orient":"none","legendX":8.7,"legendY":8.5,"labelExpr":"datum.label=='A'?'Aligned-spin search (TaylorF2)':'Eccentric search (TaylorF2Ecc)'"}},
"stroke":{"field":"s","type":"nominal","scale":{"domain":["A","E"],"range":["transparent","pink"]},"legend":{"title":null,"orient":"none","legendX":8.7,"legendY":8.5,"labelExpr":"datum.label=='A'?'Aligned-spin search (TaylorF2)':'Eccentric search (TaylorF2Ecc)'"}},
"shape":{"field":"s","type":"nominal","scale":{"domain":["A","E"],"range":["M-0.66,0A0.66,0.66,0,1,0,0.66,0A0.66,0.66,0,1,0,-0.66,0Z","M-1,0H1M0,-1V1"]},"legend":{"title":null,"orient":"none","legendX":8.7,"legendY":8.5,"labelExpr":"datum.label=='A'?'Aligned-spin search (TaylorF2)':'Eccentric search (TaylorF2Ecc)'"}}
}
},
{
"width":474.7,"height":382,
"view":{"stroke":null},
"layer":[
{
"data":{"name":"R"},
"mark":{"type":"point","opacity":1,"strokeWidth":1.7,"size":104},
"encoding":{
"x":{"field":"x","type":"quantitative","scale":{"type":"log","domain":[6.5,118.4],"nice":false},
"axis":{"orient":"bottom","domain":true,"values":[7,8,9,10,20,30,40,50,60,70,80,90,100],"labelExpr":"datum.value==10?'10¹':datum.value==100?'10²':''","tickSize":{"condition":{"test":"datum.value==10||datum.value==100","value":6},"value":3.5},"tickWidth":{"condition":{"test":"datum.value==10||datum.value==100","value":1.36},"value":1},"gridOpacity":{"condition":{"test":"datum.value==10||datum.value==100","value":1},"value":0},"labelBaseline":"alphabetic","labelPadding":20,"title":"Injected HL coincSNR","titleY":46,"titleBaseline":"alphabetic"}},
"y":{"field":"y","type":"quantitative","scale":{"type":"log","domain":[6.31,122.0],"nice":false},
"axis":{"domain":true,"values":[7,8,9,10,20,30,40,50,60,70,80,90,100],"labelExpr":"datum.value==10?'10¹':datum.value==100?'10²':''","tickSize":{"condition":{"test":"datum.value==10||datum.value==100","value":6},"value":3.5},"tickWidth":{"condition":{"test":"datum.value==10||datum.value==100","value":1.36},"value":1},"gridOpacity":{"condition":{"test":"datum.value==10||datum.value==100","value":1},"value":0},"labelPadding":6.5,"title":"Estimated HL coincSNR","titleX":-52.4,"titleBaseline":"alphabetic"}},
"fill":{"field":"s","type":"nominal","scale":{"domain":["A","E"],"range":["blue","transparent"]},"legend":{"title":null,"orient":"none","legendX":7.7,"legendY":9,"labelExpr":"datum.label=='A'?'Aligned-spin search (IMRPhenomPv2)':'Eccentric search (TEOBResumS-DALI)'"}},
"stroke":{"field":"s","type":"nominal","scale":{"domain":["A","E"],"range":["transparent","cyan"]},"legend":{"title":null,"orient":"none","legendX":7.7,"legendY":9,"labelExpr":"datum.label=='A'?'Aligned-spin search (IMRPhenomPv2)':'Eccentric search (TEOBResumS-DALI)'"}},
"shape":{"field":"s","type":"nominal","scale":{"domain":["A","E"],"range":["M-0.66,0A0.66,0.66,0,1,0,0.66,0A0.66,0.66,0,1,0,-0.66,0Z","M-1,0H1M0,-1V1"]},"legend":{"title":null,"orient":"none","legendX":7.7,"legendY":9,"labelExpr":"datum.label=='A'?'Aligned-spin search (IMRPhenomPv2)':'Eccentric search (TEOBResumS-DALI)'"}}
}
},
{
"data":{"values":[{"x":10}]},
"mark":{"type":"point","opacity":0},
"encoding":{
"x":{"field":"x","type":"quantitative","scale":{"type":"log","domain":[6.5,118.4],"nice":false},"axis":{"orient":"top","labels":false,"ticks":false,"grid":false,"domain":true,"title":null}}
}
}
],
"resolve":{"axis":{"x":"independent"}}
}
],
"resolve":{"scale":{"x":"independent","y":"independent","fill":"independent","stroke":"independent","shape":"independent"},"legend":{"fill":"independent","stroke":"independent","shape":"independent"}}
}
